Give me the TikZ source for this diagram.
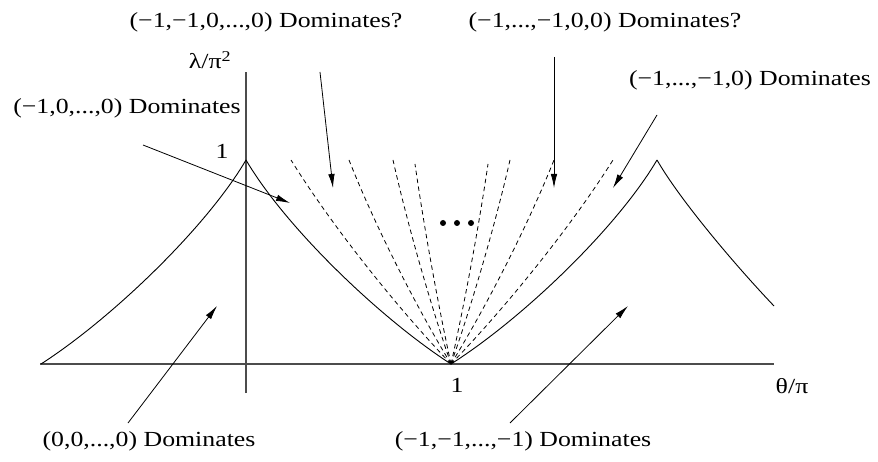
\documentclass[tikz,border=0pt]{standalone}
\usepackage{fontspec}
\setmainfont{Liberation Serif}[FakeStretch=1.2]
\usetikzlibrary{arrows.meta}
\begin{document}
\begin{tikzpicture}[x=1pt,y=-1pt,
  lbl/.style={inner sep=0pt, font=\fontsize{21.5}{24}\selectfont},
  axisline/.style={draw=black!70, line width=1.3pt},
  curve/.style={draw=black, line width=0.9pt},
  fan/.style={draw=black, line width=0.8pt, dash pattern=on 4.5pt off 3.5pt},
  pointer/.style={draw=black, line width=0.8pt, -{Latex[length=14pt,width=6.5pt]}}]
\useasboundingbox (0,0) rectangle (878,462);

% axes
\coordinate (xl) at (40,364);
\coordinate (xr) at (774,364);
\coordinate (yb) at (246,393);
\coordinate (yt) at (246,72);
\draw[axisline] (xl) -- (xr);
\draw[axisline] (yb) -- (yt);

% key points
\coordinate (A) at (41,364);
\coordinate (P1) at (246,160);
\coordinate (B) at (451,364);
\coordinate (P2) at (657,160);
\coordinate (E) at (774,306);

% solid curves
\draw[curve] (A) .. controls (111,319) and (206,228) .. (P1);
\draw[curve] (P1) .. controls (286,228) and (381,319) .. (B);
\draw[curve] (B) .. controls (522,319) and (617,228) .. (P2);
\draw[curve] (P2) .. controls (680,200) and (735,265) .. (E);

% dashed fan
\foreach \tx/\ty in {291/160,349/160,393/160,415/164,488/164,510/160,554/160,613/160}{
  \draw[fan] (B) .. controls ({451+0.337*(\tx-451)},{364+0.277*(\ty-364)})
    and ({451+0.736*(\tx-451)},{364+0.667*(\ty-364)}) .. (\tx,\ty);
}

% ellipsis dots
\fill (443,223) circle[radius=3pt];
\fill (457,223) circle[radius=3pt];
\fill (471,223) circle[radius=3pt];

% axis labels
\node[lbl] (ylab) at (210,60) {λ/π\textsuperscript{2}};
\node[lbl] (xlab) at (792,386) {θ/π};
\node[lbl] (one1) at (222,151) {1};
\node[lbl] (one2) at (457,385) {1};

% region labels
\node[lbl] (t1) at (266,22) {(−1,−1,0,...,0) Dominates?};
\node[lbl] (t2) at (605,22) {(−1,...,−1,0,0) Dominates?};
\node[lbl] (t3) at (750,80) {(−1,...,−1,0) Dominates};
\node[lbl] (t4) at (127,108) {(−1,0,...,0) Dominates};
\node[lbl] (t5) at (149,441) {(0,0,...,0) Dominates};
\node[lbl] (t6) at (523,441) {(−1,−1,...,−1) Dominates};

% arrows
\coordinate (s1) at (320,72);  \coordinate (e1) at (333,188);
\coordinate (s2) at (554,57);  \coordinate (e2) at (554,188);
\coordinate (s3) at (657,115); \coordinate (e3) at (613,188);
\coordinate (s4) at (143,145); \coordinate (e4) at (290,203);
\coordinate (s5) at (128,423); \coordinate (e5) at (217,306);
\coordinate (s6) at (510,423); \coordinate (e6) at (628,306);
\draw[pointer] (s1) -- (e1);
\draw[pointer] (s2) -- (e2);
\draw[pointer] (s3) -- (e3);
\draw[pointer] (s4) -- (e4);
\draw[pointer] (s5) -- (e5);
\draw[pointer] (s6) -- (e6);
\end{tikzpicture}
\end{document}
